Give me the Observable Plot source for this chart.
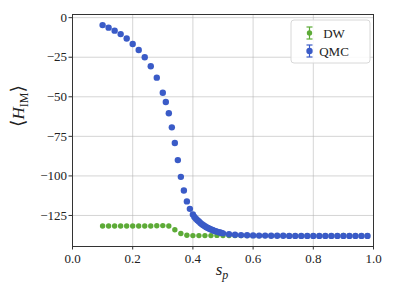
<!DOCTYPE html>
<html>
<head>
<meta charset="utf-8">
<script src="https://cdn.jsdelivr.net/npm/d3@7"></script>
<script src="https://cdn.jsdelivr.net/npm/@observablehq/plot@0.6"></script>
<style>
  html, body { margin: 0; padding: 0; background: white; }
  #chart svg, #chart svg text, #chart svg g { font-family: "Liberation Serif", "DejaVu Serif", serif !important; }
</style>
</head>
<body>
<div id="chart"></div>
<script>
// ---- data ----
const sQMC = [0.10, 0.12, 0.14, 0.16, 0.18, 0.20, 0.22, 0.24, 0.26, 0.28,
  0.30, 0.31, 0.32, 0.33, 0.34, 0.35, 0.36, 0.37, 0.38, 0.39,
  0.40, 0.405, 0.41, 0.415, 0.42, 0.425, 0.43, 0.435, 0.44, 0.445,
  0.45, 0.455, 0.46, 0.465, 0.47, 0.475, 0.48, 0.485, 0.49, 0.495, 0.50,
  0.52, 0.54, 0.56, 0.58, 0.60, 0.62, 0.64, 0.66, 0.68, 0.70, 0.72, 0.74,
  0.76, 0.78, 0.80, 0.82, 0.84, 0.86, 0.88, 0.90, 0.92, 0.94, 0.96, 0.98];
const hQMC = [-4.7, -6.3, -8.2, -10.4, -13.2, -16.6, -20.4, -25.0, -30.7, -37.9,
  -47.4, -53.3, -60.4, -69.3, -79.2, -90.0, -100.6, -109.2, -116.1, -120.8,
  -124.4, -126.0, -127.1, -128.0, -128.8, -129.7, -130.5, -131.2, -131.8, -132.4,
  -132.9, -133.4, -133.8, -134.2, -134.6, -134.9, -135.2, -135.5, -135.8, -136.0, -136.3,
  -136.9, -137.2, -137.4, -137.5, -137.6, -137.7, -137.7, -137.8, -137.8, -137.8, -137.9, -137.9,
  -137.9, -137.9, -137.9, -137.9, -137.9, -137.9, -137.9, -137.9, -137.9, -137.9, -137.9, -137.9];
const sDW = [0.10, 0.12, 0.14, 0.16, 0.18, 0.20, 0.22, 0.24, 0.26, 0.28, 0.30, 0.32,
  0.34, 0.36, 0.38, 0.40, 0.42, 0.44, 0.46, 0.48, 0.50, 0.52, 0.54, 0.56, 0.58,
  0.60, 0.62, 0.64, 0.66, 0.68, 0.70, 0.72, 0.74, 0.76, 0.78, 0.80, 0.82, 0.84,
  0.86, 0.88, 0.90, 0.92, 0.94, 0.96, 0.98];
const hDW = [-131.6, -131.6, -131.6, -131.6, -131.6, -131.6, -131.6, -131.6, -131.6, -131.5, -131.4, -131.6,
  -134.0, -136.4, -137.5, -137.7, -137.7, -137.7, -137.7, -137.6, -137.7, -137.7, -137.7, -137.7, -137.7,
  -137.7, -137.7, -137.7, -137.7, -137.7, -137.7, -137.7, -137.7, -137.7, -137.7, -137.7, -137.7, -137.7,
  -137.7, -137.7, -137.6, -137.7, -137.7, -137.7, -137.7];
const xTicks = [0, 0.2, 0.4, 0.6, 0.8, 1.0];
const yTicks = [0, -25, -50, -75, -100, -125];
const seriesNames = ["DW", "QMC"];

const qmc = sQMC.map((s, i) => ({s, h: hQMC[i]}));
const dw = sDW.map((s, i) => ({s, h: hDW[i]}));

const BLUE = "#3a5bc7";
const GREEN = "#5dab37";
const FONT = "'Liberation Serif', 'DejaVu Serif', serif";
const fmtY = d => d < 0 ? "\u2212" + Math.abs(d) : String(d);

const chart = Plot.plot({
  width: 395,
  height: 296,
  marginLeft: 72,
  marginRight: 22,
  marginTop: 14,
  marginBottom: 50,
  style: {fontFamily: FONT, fontSize: "13px", color: "#222", background: "white", overflow: "visible"},
  x: {domain: [0, 1]},
  y: {domain: [-144.6, 2.0]},
  marks: [
    Plot.gridX(xTicks, {stroke: "#b0b0b0", strokeOpacity: 0.6, strokeWidth: 0.9}),
    Plot.gridY(yTicks, {stroke: "#b0b0b0", strokeOpacity: 0.6, strokeWidth: 0.9}),
    Plot.dot(dw, {x: "s", y: "h", r: 2.7, fill: GREEN, stroke: "none"}),
    Plot.dot(qmc, {x: "s", y: "h", r: 3.2, fill: BLUE, stroke: "none"}),
    Plot.frame({stroke: "#333", strokeWidth: 1}),
    Plot.axisX(xTicks, {tickSize: 3.5, tickPadding: 4, tickFormat: d => d.toFixed(1), label: null, stroke: "#333", fontSize: 13}),
    Plot.axisY(yTicks, {tickSize: 3.5, tickPadding: 2, tickFormat: fmtY, label: null, stroke: "#333", fontSize: 13})
  ]
});

document.getElementById("chart").appendChild(chart);

const svg = d3.select(chart);
// x label s_p
const xl = svg.append("text")
  .attr("x", 222).attr("y", 275)
  .attr("text-anchor", "middle")
  .attr("font-size", 17).attr("fill", "#222");
xl.append("tspan").attr("font-style", "italic").text("s");
xl.append("tspan").attr("font-style", "italic").attr("font-size", 12).attr("dy", 4).text("p");

// y label <H_IM>
const yl = svg.append("text")
  .attr("transform", "translate(24,106) rotate(-90)")
  .attr("text-anchor", "middle")
  .attr("font-size", 17).attr("fill", "#222");
yl.append("tspan").attr("font-size", 19).text("\u27E8");
yl.append("tspan").attr("font-style", "italic").text("H");
yl.append("tspan").attr("font-size", 12).attr("dy", 4).text("IM");
yl.append("tspan").attr("dy", -4).attr("font-size", 19).text("\u27E9");

// legend
const lg = svg.append("g");
lg.append("rect").attr("x", 291).attr("y", 20).attr("width", 79).attr("height", 43)
  .attr("rx", 3).attr("fill", "white").attr("fill-opacity", 0.85)
  .attr("stroke", "#d8d8d8").attr("stroke-width", 1);
const cols = [GREEN, BLUE];
seriesNames.forEach((name, i) => {
  const cy = 33 + i * 18;
  const c = cols[i];
  const g = lg.append("g");
  g.append("line").attr("x1", 309.5).attr("x2", 309.5).attr("y1", cy - 6).attr("y2", cy + 6).attr("stroke", c).attr("stroke-width", 1.2);
  g.append("line").attr("x1", 306.5).attr("x2", 312.5).attr("y1", cy - 6).attr("y2", cy - 6).attr("stroke", c).attr("stroke-width", 1.2);
  g.append("line").attr("x1", 306.5).attr("x2", 312.5).attr("y1", cy + 6).attr("y2", cy + 6).attr("stroke", c).attr("stroke-width", 1.2);
  g.append("circle").attr("cx", 309.5).attr("cy", cy).attr("r", i === 0 ? 2.7 : 3.2).attr("fill", c);
  lg.append("text").attr("x", 334).attr("y", cy).attr("dy", "0.35em")
    .attr("font-size", 13).attr("fill", "#222").text(name);
});
</script>
</body>
</html>
